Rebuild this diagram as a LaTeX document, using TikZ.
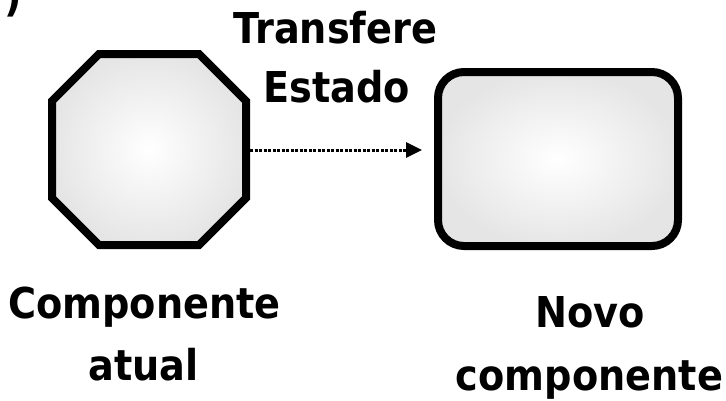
\documentclass[tikz,border=0pt]{standalone}
\usepackage{fontspec}
\setmainfont{DejaVu Sans Condensed}
\usetikzlibrary{arrows.meta}

\begin{document}
\begin{tikzpicture}
[x=1pt,y=-1pt
,label/.style={font=\fontsize{42.5}{50}\selectfont\bfseries,inner sep=0pt,anchor=base}
,comp/.style={draw,line width=8pt,inner color=white,outer color=black!10}
]
\useasboundingbox (0,0) rectangle (726,400);

% octagon: current component
\path[comp] (99,54) -- (199,54) -- (246,101) -- (246,198) -- (199,245) -- (99,245)
  -- (52,198) -- (52,101) -- cycle;
\coordinate (atual) at (250,150);
\node[comp,rectangle,rounded corners=26pt,minimum width=240pt,minimum height=174pt] (novo) at (558,159) {};

\node[label] (par)    at (13,11)    {)};
\node[label] (trans1) at (335.5,43) {Transfere};
\node[label] (trans2) at (336.5,102){Estado};
\node[label] (at1)    at (144.5,318){Componente};
\node[label] (at2)    at (143.5,380){atual};
\node[label] (nv1)    at (590,327)  {Novo};
\node[label] (nv2)    at (589.5,390){componente};

\draw [line width=3pt,dash pattern=on 3pt off 1.5pt,-{Triangle[length=16pt,width=15pt]},shorten >=12pt]
  (atual) -- (atual -| novo.west);

\end{tikzpicture}
\end{document}
